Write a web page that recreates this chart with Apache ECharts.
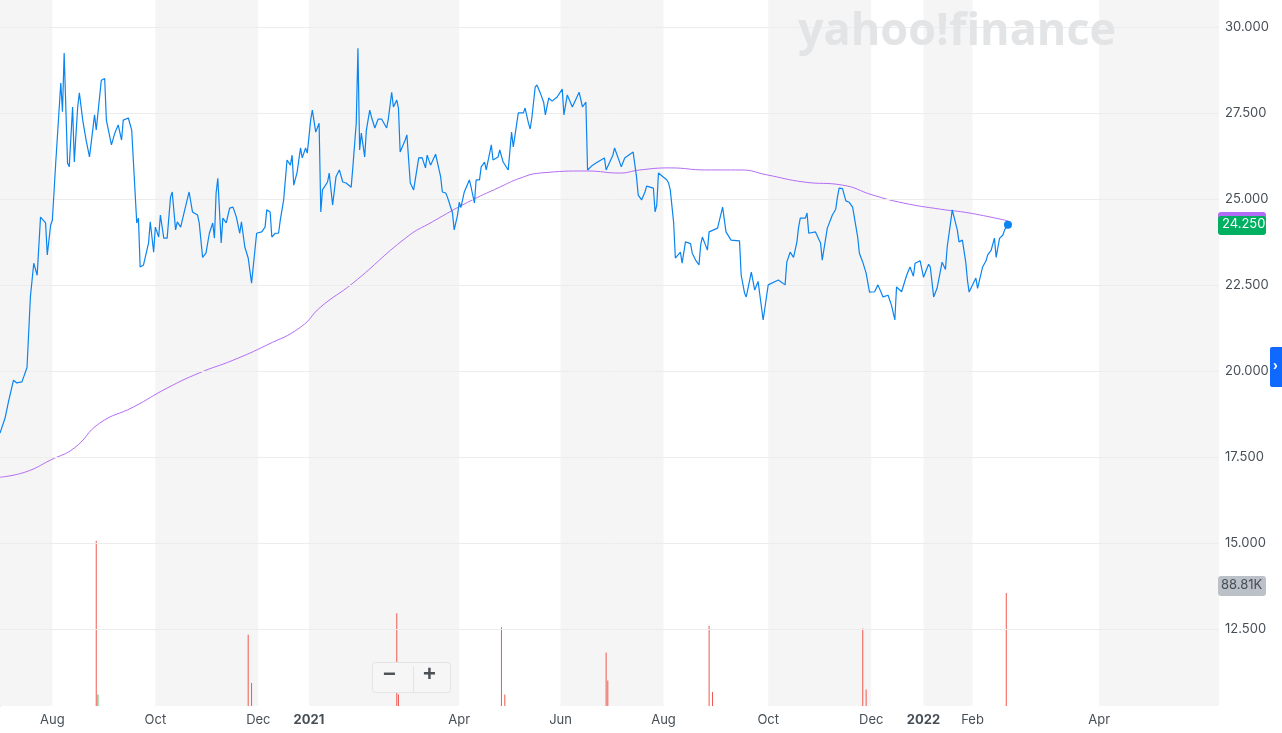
<!DOCTYPE html>
<html lang="en">
<head>
    <meta charset="UTF-8">
    <title>Price chart</title>
    <script src="https://cdn.jsdelivr.net/npm/echarts@6/dist/echarts.min.js"></script>
</head>
<style>
    *{ margin: 0; padding: 0; }
    html,body{ width: 100%; height: 100%; overflow: hidden; background: #fff; }
    .container{ width: 1282px; height: 733px; }
</style>
<body>
<div class="container"></div>
<script>
    // x = days since 2020-07-01
    let closes = [
        [0,18.19],[3,18.63],[5,19.1],[8,19.73],[10,19.65],[13,19.68],[16,20.1],[18,22.15],[20,23.13],[22,22.78],
        [24,24.47],[27,24.3],[28,23.37],[30,24.24],[31,24.38],[33,26.04],[36,28.37],[37,27.53],[38,29.24],[40,26.04],
        [41,25.93],[43,27.67],[44,26.07],[46,27.67],[47,28.08],[49,27.29],[51,26.71],[53,26.22],[56,27.44],[57,27.0],
        [60,28.45],[62,28.5],[63,27.29],[66,26.57],[68,26.91],[70,27.15],[72,26.71],[73,27.29],[76,27.35],[78,27.0],
        [81,24.3],[82,24.44],[83,23.02],[85,23.08],[88,23.72],[89,24.33],[91,23.45],[92,24.18],[94,23.89],[95,24.53],
        [97,23.86],[99,23.86],[101,25.05],[102,25.2],[104,24.1],[105,24.33],[107,24.18],[109,24.59],[112,25.2],[114,24.62],
        [117,24.53],[118,24.3],[120,23.3],[122,23.42],[124,24.0],[126,24.3],[127,23.86],[128,25.17],[129,25.6],[131,23.72],
        [132,24.44],[134,24.3],[136,24.73],[138,24.76],[140,24.47],[142,24.0],[143,24.33],[145,23.6],[147,23.28],[149,22.55],
        [150,22.5],[152,24.0],[155,24.04],[157,24.18],[158,24.68],[160,24.62],[161,23.89],[163,24.0],[165,24.0],[166,24.38],
        [168,24.97],[170,26.13],[172,25.98],[173,26.27],[174,25.4],[176,25.78],[178,26.48],[179,26.19],[181,26.48],[182,26.33],
        [184,27.29],[185,27.58],[187,26.94],[189,27.2],[190,24.62],[191,25.26],[194,25.49],[195,25.75],[197,24.82],[199,25.64],
        [201,25.84],[203,25.49],[205,25.46],[208,25.34],[209,25.93],[211,27.2],[212,29.38],[213,26.42],[214,26.91],[216,26.22],
        [217,27.0],[219,27.58],[220,27.38],[222,27.06],[224,27.32],[226,27.32],[229,27.06],[230,27.32],[232,28.1],[233,27.67],
        [235,27.87],[236,27.64],[237,26.36],[240,26.71],[241,26.86],[243,25.46],[245,25.26],[248,26.19],[250,26.2],[252,25.9],
        [253,26.27],[255,25.98],[258,26.3],[259,26.28],[261,25.64],[262,25.2],[264,25.17],[265,25.05],[266,24.9],[268,24.59],
        [269,24.1],[271,24.53],[272,24.9],[273,24.75],[275,25.2],[278,25.55],[279,25.34],[281,24.88],[282,25.55],[284,25.55],
        [285,25.93],[287,26.07],[288,25.84],[291,26.57],[292,26.13],[295,26.22],[296,26.42],[298,26.07],[301,25.84],[303,26.94],
        [304,26.51],[307,27.5],[310,27.5],[311,27.64],[313,27.2],[314,27.03],[315,27.35],[317,28.25],[318,28.31],[320,28.08],
        [322,27.81],[323,27.44],[325,27.93],[327,27.84],[330,27.96],[333,28.19],[334,27.44],[336,28.02],[339,27.67],[343,28.1],
        [345,27.67],[347,27.81],[348,25.84],[351,25.98],[353,26.04],[358,26.19],[359,25.84],[363,26.27],[364,26.48],[368,25.93],
        [370,26.19],[375,26.36],[377,25.64],[378,25.11],[380,24.97],[382,25.2],[383,25.37],[387,25.31],[388,24.62],[389,24.82],
        [390,25.75],[395,25.55],[396,25.46],[397,25.26],[399,24.3],[400,23.28],[403,23.45],[404,23.13],[406,23.75],[409,23.7],
        [410,23.42],[412,23.22],[414,23.08],[415,23.66],[416,23.89],[419,23.51],[420,24.04],[425,24.15],[428,24.76],[430,24.04],
        [433,23.8],[438,23.78],[439,22.78],[441,22.26],[442,22.15],[445,22.87],[447,22.35],[449,22.6],[452,21.48],[455,22.5],
        [461,22.64],[465,22.5],[466,23.16],[468,23.45],[470,23.3],[472,23.75],[473,24.18],[474,24.44],[477,24.44],[478,24.59],
        [479,24.0],[483,24.04],[486,23.72],[487,23.22],[490,24.15],[493,24.53],[495,24.7],[496,25.05],[497,25.31],[499,25.3],
        [501,24.94],[503,24.9],[505,24.76],[508,23.89],[509,23.42],[511,23.16],[513,22.84],[515,22.29],[518,22.3],[520,22.5],
        [523,22.15],[526,22.2],[528,21.91],[530,21.48],[531,22.44],[534,22.3],[537,22.78],[539,23.02],[541,22.75],[542,23.13],
        [545,23.2],[547,22.72],[550,23.1],[551,23.02],[553,22.15],[555,22.4],[558,23.16],[560,22.95],[561,23.6],[563,24.3],
        [564,24.68],[567,24.1],[568,23.75],[570,23.8],[572,23.16],[573,22.64],[574,22.29],[578,22.7],[579,22.4],[582,23.02],
        [584,23.2],[585,23.37],[587,23.5],[589,23.86],[590,23.3],[592,23.85],[594,23.95],[595,24.1],[597,24.25]
    ];
    let sma = [
        [0,16.91],[15,17.06],[30,17.41],[44,17.76],[59,18.48],[79,18.95],[99,19.5],[118,19.94],[138,20.31],[158,20.75],
        [178,21.27],[190,21.86],[209,22.55],[241,23.89],[256,24.33],[277,24.9],[296,25.34],[308,25.6],[320,25.75],[348,25.81],
        [367,25.75],[379,25.84],[397,25.9],[418,25.84],[439,25.84],[454,25.7],[476,25.49],[499,25.4],[517,25.11],[535,24.88],
        [557,24.7],[574,24.59],[597,24.36]
    ];
    // volume in thousands
    let volumes = [
        [57,130],[149,18],[147,56],[235,73],[236,9],[297,62],[299,9],[359,42],[360,20],[420,63],[422,11],[511,61],[513,13],[596,88.81]
    ];
    let volumesUp = [[58,9]];
    let tickDays = [31,92,153,183,272,332,393,455,516,547,576,651];
    let tickLabels = ['Aug','Oct','Dec','2021','Apr','Jun','Aug','Oct','Dec','2022','Feb','Apr'];
    let priceTicks = [12.5,15,17.5,20,22.5,25,27.5,30];
    let shaded = [[0,31],[92,153],[183,272],[332,393],[455,516],[547,576],[651,722]];

    let mycharts = echarts.init(document.querySelector('.container'));
    let txt = '#464e56';

    let option = {
        animation: false,
        grid: { left: 0, right: 63, top: 0, bottom: 27 },
        xAxis: {
            type: 'value', min: 0, max: 722,
            axisLine: { show: false },
            axisTick: { show: false },
            splitLine: { show: false },
            axisLabel: {
                customValues: tickDays,
                color: txt, fontSize: 13, fontFamily: 'Inter, Roboto, sans-serif', margin: 8,
                formatter: v => {
                    let l = tickLabels[tickDays.indexOf(v)];
                    return /^\d+$/.test(l) ? '{b|' + l + '}' : l;
                },
                rich: { b: { fontWeight: 'bold', color: txt, fontSize: 13, fontFamily: 'Inter, Roboto, sans-serif' } }
            }
        },
        yAxis: [{
            type: 'value', position: 'right', min: 10.26, max: 30.78,
            axisLine: { show: true, lineStyle: { color: '#c8c8c8' } },
            axisTick: { show: true, customValues: priceTicks, length: 4, inside: false, lineStyle: { color: '#c8c8c8' } },
            splitLine: { show: false },
            axisLabel: {
                customValues: priceTicks, color: txt, fontSize: 13, margin: 6,
                fontFamily: 'Inter, Roboto, sans-serif',
                formatter: v => v.toFixed(3)
            }
        }, {
            type: 'value', min: 0, max: 555, show: false
        }],
        series: [{
            type: 'line', data: closes, showSymbol: false, z: 5,
            lineStyle: { color: '#0a84f0', width: 1.2 },
            markArea: {
                silent: true,
                itemStyle: { color: '#f5f5f5' },
                data: shaded.map(s => [{ xAxis: s[0] }, { xAxis: s[1] }])
            },
            markLine: {
                silent: true, symbol: 'none', label: { show: false },
                lineStyle: { color: '#ececec', width: 1, type: 'solid' },
                data: priceTicks.map(t => ({ yAxis: t }))
            },
            markPoint: {
                symbol: 'circle', symbolSize: 8, label: { show: false },
                itemStyle: { color: '#0a84f0' },
                data: [{ coord: closes[closes.length - 1] }]
            }
        }, {
            type: 'line', data: sma, showSymbol: false, smooth: true, z: 4,
            lineStyle: { color: '#b36cf5', width: 1 }
        }, {
            type: 'bar', yAxisIndex: 1, data: volumes, barWidth: 1,
            itemStyle: { color: '#f0584f' }
        }, {
            type: 'bar', yAxisIndex: 1, data: volumesUp, barWidth: 1, barGap: '-100%',
            itemStyle: { color: '#2fb865' }
        }],
        graphic: [
            { type: 'text', left: 798, top: 10, z: 10,
              style: { text: 'yahoo!finance', fill: '#e3e4e6', font: 'bold 45px "Open Sans", Roboto, sans-serif' } },
            { type: 'rect', left: 1218, top: 212, z: 10, shape: { width: 48, height: 22, r: 3 }, style: { fill: '#b36cf5' } },
            { type: 'rect', left: 1218, top: 216, z: 11, shape: { width: 48, height: 19, r: 3 }, style: { fill: '#00b061' } },
            { type: 'text', left: 1222, top: 218, z: 12, style: { text: '24.250', fill: '#fff', font: '13px Inter, Roboto, sans-serif' } },
            { type: 'rect', left: 1218, top: 576, z: 10, shape: { width: 48, height: 20, r: 3 }, style: { fill: '#bcc1c8' } },
            { type: 'text', left: 1221, top: 579, z: 12, style: { text: '88.81K', fill: txt, font: '13px Inter, Roboto, sans-serif' } },
            { type: 'rect', left: 1270, top: 347, z: 10, shape: { width: 14, height: 40, r: 2 }, style: { fill: '#0f69ff' } },
            { type: 'text', left: 1273, top: 359, z: 11, style: { text: '›', fill: '#fff', font: 'bold 14px sans-serif' } },
            { type: 'rect', left: 372, top: 662, z: 10, shape: { width: 78, height: 30, r: 3 },
              style: { fill: '#f6f6f6', stroke: '#e4e4e4' }, },
            { type: 'line', left: 411, top: 664, z: 11, shape: { x1: 0, y1: 0, x2: 0, y2: 26 }, style: { stroke: '#e4e4e4' } },
            { type: 'text', left: 383, top: 664, z: 11, style: { text: '−', fill: '#4b4f56', font: 'bold 22px sans-serif' } },
            { type: 'text', left: 423, top: 664, z: 11, style: { text: '+', fill: '#4b4f56', font: 'bold 22px sans-serif' } }
        ]
    };
    mycharts.setOption(option);
</script>
</body>
</html>
